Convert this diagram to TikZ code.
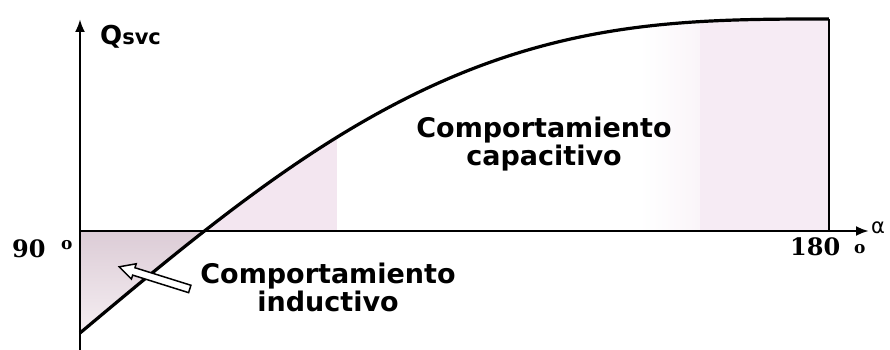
\documentclass[tikz,border=0pt]{standalone}
\usepackage{fontspec}
\newfontfamily\sansf{DejaVu Sans}
\newfontfamily\seriff{DejaVu Serif}
\usetikzlibrary{arrows.meta,shapes.arrows}
\definecolor{shadeA}{HTML}{DCCCD6}
\definecolor{shadeB}{HTML}{F5EEF2}
\definecolor{pinkA}{HTML}{F3E6F0}
\definecolor{pinkB}{HTML}{F6EBF4}
\definecolor{pinkC}{HTML}{FAF5F9}
\tikzset{
  axis/.style={line width=2.6pt, -{Latex[length=13pt,width=10pt]}},
  curveline/.style={line width=3.2pt, line join=round},
  lbl/.style={inner sep=0pt, font=\sansf\bfseries\fontsize{27}{27}\selectfont},
  numlbl/.style={inner sep=0pt, font=\seriff\bfseries\fontsize{24}{24}\selectfont},
  deglbl/.style={inner sep=0pt, font=\seriff\bfseries\fontsize{17}{17}\selectfont},
}
\begin{document}
\begin{tikzpicture}[x=1pt,y=-1pt]
\useasboundingbox[fill=white] (0,0) rectangle (890,350);
% coordinates
\coordinate (O) at (80,231);
\coordinate (ybot) at (80,350);
\coordinate (ytop) at (80,19);
\coordinate (xend) at (869,231);
\coordinate (R) at (829,231);
\coordinate (Rtop) at (829,19);
% shading below axis
\fill[top color=shadeA, bottom color=shadeB]
  plot[domain=90:105, samples=20, variable=\a] ({80+(\a-90)*8.322},{19+314*(2*pi-2*rad(\a)+sin(2*\a))/pi}) -- (O) -- cycle;
% shading above axis
\begin{scope}
\clip plot[domain=105:180, samples=80, variable=\a] ({80+(\a-90)*8.322},{19+314*(2*pi-2*rad(\a)+sin(2*\a))/pi}) -- (R) -- cycle;
\fill[pinkA] (205,0) rectangle (337,231);
\fill[left color=white, right color=pinkC] (640,0) rectangle (700,231);
\fill[pinkB] (700,0) rectangle (829,231);
\end{scope}
% axes
\draw[axis] (ybot) -- (ytop);
\draw[axis] (O) -- (xend);
% curve
\draw[curveline] plot[domain=90:180, samples=120, variable=\a] ({80+(\a-90)*8.322},{19+314*(2*pi-2*rad(\a)+sin(2*\a))/pi});
\draw[line width=2.6pt] (Rtop) -- (R);
% block arrow
\node[single arrow, draw=black, fill=white, line width=1.5pt, inner sep=3pt,
  minimum height=74pt, minimum width=16pt, single arrow head extend=4pt,
  single arrow tip angle=55, rotate=162.6] (arr) at (158,279) {};
% labels
\node[anchor=base west, inner sep=0pt] (q) at (100,45)
  {\sansf\bfseries{\fontsize{26}{26}\selectfont Q}{\fontsize{21}{21}\selectfont svc}};
\node[numlbl, anchor=base west] (n90) at (12,257) {90};
\node[deglbl, anchor=base west] (d90) at (61,249) {o};
\node[numlbl, anchor=base west] (n180) at (790,255) {180};
\node[deglbl, anchor=base west] (d180) at (854,253) {o};
\node[anchor=base west, inner sep=0pt, font=\sansf\fontsize{21}{21}\selectfont] (alpha) at (871,233) {α};
\node[lbl, anchor=base] (cap1) at (544,137) {Comportamiento};
\node[lbl, anchor=base] (cap2) at (544,165) {capacitivo};
\node[lbl, anchor=base] (ind1) at (328,283) {Comportamiento};
\node[lbl, anchor=base] (ind2) at (328,311) {inductivo};
\end{tikzpicture}
\end{document}
